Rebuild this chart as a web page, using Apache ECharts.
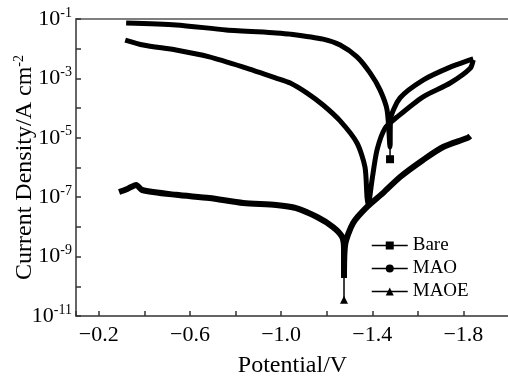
<!DOCTYPE html>
<html>
<head>
<meta charset="utf-8">
<script src="https://cdn.jsdelivr.net/npm/echarts@6/dist/echarts.min.js"></script>
<style>
html,body{margin:0;padding:0;background:#fff;}
#chart{width:508px;height:381px;}
</style>
</head>
<body>
<div id="chart"></div>
<script>
// Potential (V) and current density (A cm^-2)
var bareV = [-0.320, -0.539, -0.759, -0.978, -1.040, -1.184, -1.259, -1.333, -1.391, -1.434, -1.465, -1.478];
var bareI = [7.3e-2, 6.3e-2, 4.3e-2, 3.4e-2, 3.1e-2, 2.1e-2, 1.33e-2, 5.3e-3, 1.5e-3, 4.1e-4, 8.6e-5, 4.9e-6];
var bareCathV = [-1.480, -1.522, -1.623, -1.742, -1.830, -1.843];
var bareCathI = [4.0e-5, 2.2e-4, 8.8e-4, 2.4e-3, 4.2e-3, 4.5e-3];
var bareStemV = [-1.478, -1.478];
var bareStemI = [4.9e-6, 1.9e-6];

var maoV = [-0.316, -0.395, -0.539, -0.685, -0.834, -0.978, -1.040, -1.114, -1.184, -1.259, -1.333, -1.368, -1.377, -1.382,
            -1.399, -1.421, -1.456, -1.509, -1.623, -1.742, -1.830, -1.843];
var maoI = [1.96e-2, 1.33e-2, 9.0e-3, 5.3e-3, 2.4e-3, 1.03e-3, 7.0e-4, 3.2e-4, 1.27e-4, 3.7e-5, 6.7e-6, 1.04e-6, 1.0e-7, 5.5e-8,
            3.8e-7, 3.9e-6, 2.1e-5, 5.0e-5, 2.4e-4, 7.0e-4, 2.2e-3, 4.2e-3];

var maoeV = [-0.289, -0.325, -0.364, -0.390, -0.539, -0.685, -0.834, -0.978, -1.066, -1.158, -1.228, -1.268, -1.276, -1.276, -1.276];
var maoeI = [1.5e-7, 1.9e-7, 2.6e-7, 1.75e-7, 1.2e-7, 9.4e-8, 6.4e-8, 5.5e-8, 4.3e-8, 2.15e-8, 9.9e-9, 4.6e-9, 1.7e-9, 5.2e-10, 1.9e-10];
var maoeCathV = [-1.276, -1.281, -1.316, -1.377, -1.448, -1.522, -1.623, -1.711, -1.817, -1.830];
var maoeCathI = [1.9e-10, 2.5e-9, 1.35e-8, 4.7e-8, 1.4e-7, 4.8e-7, 1.8e-6, 4.9e-6, 9.8e-6, 1.15e-5];
var maoeStemV = [-1.276, -1.276];
var maoeStemI = [1.9e-10, 3.5e-11];

var seriesNames = ['Bare', 'MAO', 'MAOE'];
var xLabels = [-0.2, -0.6, -1.0, -1.4, -1.8];

function pairs(xs, ys) { return xs.map(function (x, i) { return [x, ys[i]]; }); }

var FONT = "'Liberation Serif','Times New Roman',serif";
var chart = echarts.init(document.getElementById('chart'), null, {renderer: 'canvas'});

var lineBase = {
  type: 'line', smooth: 0.25, showSymbol: false, symbolSize: 8,
  color: '#000', lineStyle: {color: '#000', width: 5}, itemStyle: {color: '#000'},
  animation: false, z: 3
};

function stem(name, sym, data) {
  return Object.assign({}, lineBase, {
    name: name, symbol: sym, data: data, smooth: false, showSymbol: true,
    symbolSize: function (v, p) { return p.dataIndex === data.length - 1 ? 8 : 0; },
    lineStyle: {color: '#000', width: 1.5}
  });
}

var option = {
  animation: false,
  backgroundColor: '#fff',
  grid: {left: 76, right: -1, top: 19, bottom: 65, outerBoundsMode: 'none', containLabel: false},
  legend: {
    data: seriesNames, orient: 'vertical', left: 366, top: 231,
    itemWidth: 36, itemHeight: 10, itemGap: 4,
    textStyle: {fontFamily: FONT, fontSize: 19, color: '#000'},
    lineStyle: {width: 1.5, color: '#000'},
    itemStyle: {color: '#000'}
  },
  xAxis: [{
    type: 'value', inverse: true, min: -2.0, max: -0.1, interval: 0.2,
    name: 'Potential/V', nameLocation: 'middle', nameGap: 38, nameMoveOverlap: false,
    nameTextStyle: {fontFamily: FONT, fontSize: 24, color: '#000'},
    axisLine: {show: true, onZero: false, lineStyle: {color: '#333', width: 1.5}},
    axisTick: {show: true, inside: true, length: 5, lineStyle: {color: '#333', width: 1.5}},
    splitLine: {show: false},
    axisLabel: {
      fontFamily: FONT, fontSize: 22, color: '#000', margin: 8, showMaxLabel: true, showMinLabel: true,
      formatter: function (v) {
        for (var i = 0; i < xLabels.length; i++) {
          if (Math.abs(v - xLabels[i]) < 1e-6) return '\u2212' + Math.abs(v).toFixed(1);
        }
        return '';
      }
    }
  }, {
    type: 'value', position: 'top', inverse: true, min: -2.0, max: -0.1,
    axisLine: {show: true, lineStyle: {color: '#555', width: 1.5}},
    axisTick: {show: false}, axisLabel: {show: false}, splitLine: {show: false}
  }],
  yAxis: {
    type: 'log', logBase: 10, min: 1e-11, max: 1e-1, interval: 1, splitNumber: 10,
    name: '{a|Current Density/A cm}{s|-2}', nameLocation: 'middle', nameGap: 38, nameRotate: 90,
    nameMoveOverlap: false,
    nameTextStyle: {
      fontFamily: FONT, fontSize: 24, color: '#000',
      rich: {a: {fontFamily: FONT, fontSize: 24, color: '#000'},
             s: {fontFamily: FONT, fontSize: 14, color: '#000', padding: [0, 0, 12, 0]}}
    },
    axisLine: {show: true, onZero: false, lineStyle: {color: '#333', width: 1.5}},
    axisTick: {show: true, inside: true, length: 5, lineStyle: {color: '#333', width: 1.5}},
    minorTick: {show: false},
    splitLine: {show: false},
    axisLabel: {
      margin: 4,
      formatter: function (v) {
        var e = Math.round(Math.log(v) / Math.LN10);
        if (Math.abs(e) % 2 === 1) return '{b|10}{s|' + e + '}';
        return '';
      },
      rich: {
        b: {fontFamily: FONT, fontSize: 22, color: '#000'},
        s: {fontFamily: FONT, fontSize: 14, color: '#000', padding: [0, 0, 12, 0]}
      }
    }
  },
  series: [
    Object.assign({}, lineBase, {name: 'Bare', symbol: 'rect', data: pairs(bareV, bareI).concat(pairs(bareCathV, bareCathI))}),
    Object.assign({}, lineBase, {name: 'MAO', symbol: 'circle', data: pairs(maoV, maoI)}),
    Object.assign({}, lineBase, {name: 'MAOE', symbol: 'triangle', data: pairs(maoeV, maoeI).concat(pairs(maoeCathV, maoeCathI)), lineStyle: {color: '#000', width: 6}}),
    stem('Bare', 'rect', pairs(bareStemV, bareStemI)),
    stem('MAOE', 'triangle', pairs(maoeStemV, maoeStemI))
  ]
};
chart.setOption(option);
</script>
</body>
</html>
